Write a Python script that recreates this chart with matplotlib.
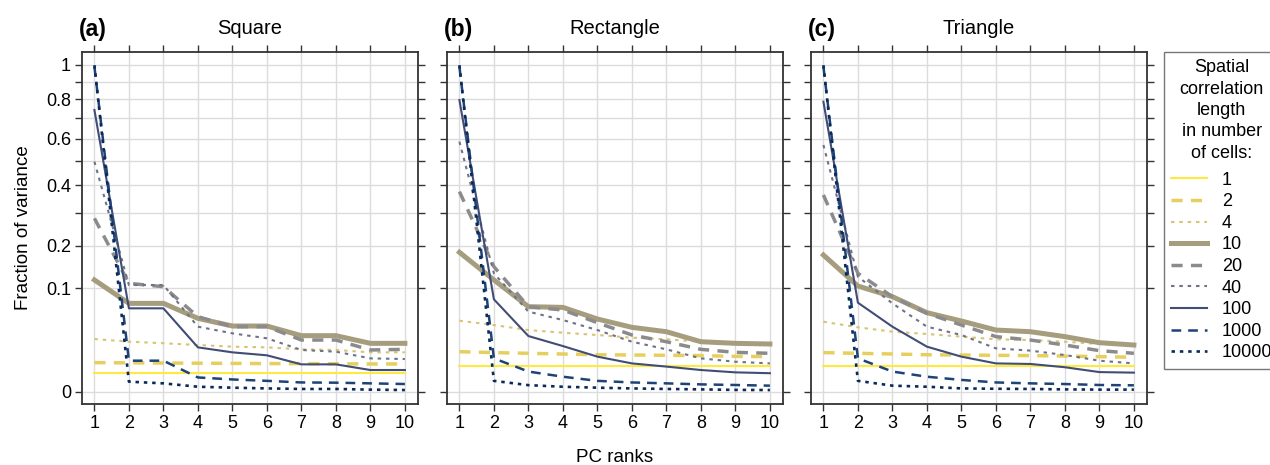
import numpy as np
import matplotlib
matplotlib.use("Agg")
from matplotlib import pyplot as plt

plt.rcParams['font.family'] = ['Liberation Sans', 'DejaVu Sans']
plt.rcParams['lines.scale_dashes'] = False

ranks = np.arange(1, 11)
panels = ["Square", "Rectangle", "Triangle"]
panel_tags = ["(a)", "(b)", "(c)"]
lengths = ["1", "2", "4", "10", "20", "40", "100", "1000", "10000"]

# fraction of variance per PC rank, one list per correlation length, per panel
square = {
    "1":     [0.0034] * 10,
    "2":     [0.0079, 0.0078, 0.0077, 0.0076, 0.0075, 0.0074, 0.0074, 0.0073, 0.0072, 0.0072],
    "4":     [0.026, 0.0234, 0.0220, 0.0204, 0.0190, 0.0184, 0.0168, 0.0163, 0.0145, 0.0145],
    "10":    [0.117, 0.0731, 0.0731, 0.0504, 0.0404, 0.0404, 0.0294, 0.0294, 0.0219, 0.0219],
    "20":    [0.2816, 0.110, 0.1033, 0.0527, 0.0396, 0.0396, 0.025, 0.025, 0.0163, 0.0168],
    "40":    [0.4957, 0.1066, 0.1066, 0.0396, 0.0319, 0.0267, 0.0163, 0.0150, 0.0104, 0.0100],
    "100":   [0.7435, 0.0651, 0.0651, 0.0184, 0.0145, 0.0124, 0.0070, 0.0070, 0.0044, 0.0044],
    "1000":  [0.99, 0.0090, 0.0090, 0.0019, 0.0014, 0.0011, 0.0008, 0.00076, 0.00065, 0.00055],
    "10000": [0.999, 0.00094, 0.00065, 0.00023, 0.00015, 0.0001, 0.00007, 0.00007, 0.00004, 0.000026],
}
rectangle = {
    "1":     [0.0063] * 10,
    "2":     [0.0150, 0.0143, 0.0138, 0.0133, 0.0128, 0.0126, 0.0124, 0.0122, 0.0117, 0.0115],
    "4":     [0.0472, 0.0416, 0.0356, 0.0326, 0.0301, 0.0273, 0.0257, 0.0234, 0.0219, 0.0213],
    "10":    [0.182, 0.117, 0.0677, 0.0666, 0.0495, 0.0388, 0.0337, 0.0234, 0.0219, 0.0213],
    "20":    [0.375, 0.1464, 0.0677, 0.0625, 0.0446, 0.0301, 0.0234, 0.0168, 0.0145, 0.0138],
    "40":    [0.5857, 0.1312, 0.060, 0.0481, 0.0356, 0.0234, 0.0168, 0.0104, 0.0084, 0.0075],
    "100":   [0.797, 0.0799, 0.029, 0.0195, 0.0115, 0.0075, 0.0059, 0.0044, 0.0035, 0.0032],
    "1000":  [0.99, 0.0104, 0.0038, 0.0021, 0.0011, 0.0008, 0.00065, 0.0005, 0.00042, 0.00034],
    "10000": [0.999, 0.0011, 0.0004, 0.00023, 0.00015, 0.0001, 0.00007, 0.00005, 0.00003, 0.000026],
}
triangle = {
    "1":     [0.0062] * 10,
    "2":     [0.0143, 0.0138, 0.0133, 0.0128, 0.0126, 0.0124, 0.0122, 0.0119, 0.0115, 0.0111],
    "4":     [0.0459, 0.0388, 0.0337, 0.0312, 0.0284, 0.0257, 0.025, 0.0234, 0.0213, 0.0204],
    "10":    [0.175, 0.1046, 0.0846, 0.0585, 0.0468, 0.0356, 0.0337, 0.0284, 0.0225, 0.0204],
    "20":    [0.3625, 0.1312, 0.0846, 0.0575, 0.0416, 0.0284, 0.025, 0.0204, 0.0158, 0.0138],
    "40":    [0.570, 0.1239, 0.0731, 0.0396, 0.0301, 0.0176, 0.0158, 0.0126, 0.0090, 0.0075],
    "100":   [0.788, 0.0742, 0.0396, 0.0190, 0.0115, 0.0075, 0.0072, 0.0056, 0.0036, 0.0034],
    "1000":  [0.99, 0.0104, 0.0038, 0.0021, 0.0013, 0.0008, 0.00065, 0.00055, 0.00042, 0.00038],
    "10000": [0.999, 0.0011, 0.00034, 0.00023, 0.0001, 0.00008, 0.00007, 0.00005, 0.00004, 0.00004],
}
panel_data = [square, rectangle, triangle]

colors = {"1": "#fde93f", "2": "#e6cf5e", "4": "#d8c472", "10": "#a69d7e",
          "20": "#8b8b8d", "40": "#6f7388", "100": "#414d75", "1000": "#1d4377",
          "10000": "#0b2a5c"}
widths = {"1": 1.5, "2": 2.5, "4": 1.5, "10": 3.6, "20": 2.5, "40": 1.5,
          "100": 1.5, "1000": 1.8, "10000": 1.9}
styles = {"1": "-", "2": (0, (8, 6)), "4": (0, (2.5, 3.5)), "10": "-",
          "20": (0, (8, 6)), "40": (0, (2.5, 3.5)), "100": "-",
          "1000": (0, (7, 5)), "10000": (0, (2.5, 3.5))}


def fwd(y):
    return np.sign(y) * np.sqrt(np.abs(y))


def inv(y):
    return np.sign(y) * y ** 2


fig = plt.figure(figsize=(12.7, 4.65), dpi=100)
lefts = [82, 447, 811]
yticks = np.round(np.arange(0, 1.01, 0.1), 1)
ylabels = ["0", "0.1", "0.2", "", "0.4", "", "0.6", "", "0.8", "", "1"]

for i, (name, tag, data) in enumerate(zip(panels, panel_tags, panel_data)):
    ax = fig.add_axes([lefts[i] / 1270, 1 - 404 / 465, 336 / 1270, (404 - 51.7) / 465])
    ax.set_yscale("function", functions=(fwd, inv))
    for L in lengths:
        ax.plot(ranks, data[L], color=colors[L], lw=widths[L], linestyle=styles[L], label=L)
    ax.set_xlim(0.64, 10.38)
    ax.set_ylim(-0.00142, 1.083)
    ax.set_xticks(ranks)
    ax.set_yticks(yticks)
    if i == 0:
        ax.set_yticklabels(ylabels)
        ax.set_ylabel("Fraction of variance", fontsize=13.5, labelpad=10)
    else:
        ax.set_yticklabels([])
    ax.grid(True, color="#dcdcdc", lw=1.0)
    ax.set_axisbelow(True)
    ax.tick_params(direction="out", length=5, width=1, labelsize=13,
                   top=True, right=True, color="#333333", pad=3)
    for s in ax.spines.values():
        s.set_color("#333333")
        s.set_linewidth(1.3)
    ax.text(0.5, 1.067, name, transform=ax.transAxes, ha="center", va="center", fontsize=14.5)
    ax.text(-0.01, 1.064, tag, transform=ax.transAxes, ha="left", va="center",
            fontsize=16.5, fontweight="bold")
    if i == 1:
        ax.set_xlabel("PC ranks", fontsize=13.5, labelpad=12)
    if i == 0:
        handles, labels = ax.get_legend_handles_labels()

leg = fig.legend(handles, labels, loc="upper left", bbox_to_anchor=(1164 / 1270, 1 - 52 / 465),
                 borderaxespad=0,
                 title="Spatial\ncorrelation\nlength\nin number\nof cells:",
                 fontsize=13, title_fontsize=13, frameon=True, fancybox=False,
                 edgecolor="#555555", handlelength=2.0, handletextpad=0.8,
                 labelspacing=0.255, borderpad=0.4, alignment="center")
leg.get_frame().set_linewidth(1.0)
leg.get_title().set_multialignment("center")
leg.get_title().set_linespacing(1.34)
# a little more room between the title block and the first entry
leg._legend_box.sep = 7.0

fig.savefig("out.png", dpi=100)
